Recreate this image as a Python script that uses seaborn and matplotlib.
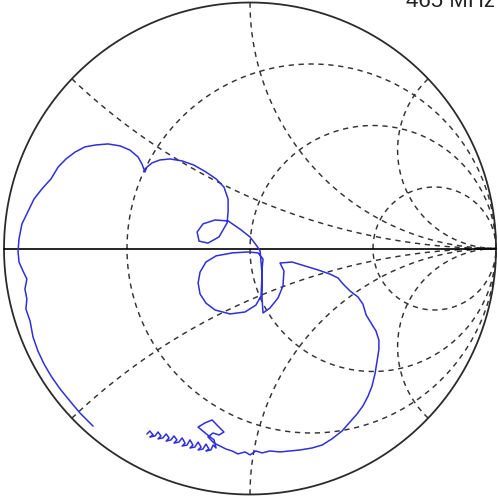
import numpy as np
import pandas as pd
import matplotlib
matplotlib.use("Agg")
import matplotlib.pyplot as plt
import seaborn as sns

gamma_re = [-0.419, -0.407, -0.394, -0.407, -0.386, -0.374, -0.362, -0.374, -0.354, -0.341,
            -0.329, -0.341, -0.321, -0.309, -0.297, -0.309, -0.289, -0.276, -0.264, -0.276,
            -0.256, -0.244, -0.232, -0.244, -0.224, -0.211, -0.199, -0.211, -0.191, -0.179,
            -0.167, -0.179, -0.159, -0.150, -0.138, -0.146, -0.167, -0.187, -0.211, -0.183,
            -0.154, -0.130, -0.106, -0.126, -0.150, -0.171, -0.146, -0.122, -0.098,
            -0.073, -0.049,
            -0.020, 0.000, 0.024, 0.049, 0.081, 0.122, 0.163, 0.203, 0.252, 0.293,
            0.333, 0.374, 0.407, 0.435, 0.459, 0.480, 0.496, 0.508, 0.516, 0.524,
            0.524, 0.512, 0.492, 0.472, 0.459, 0.439, 0.407, 0.378, 0.358, 0.325,
            0.276, 0.224, 0.171, 0.122, 0.138, 0.134, 0.114, 0.081, 0.053, 0.049,
            0.049, 0.049, 0.053, 0.033, -0.008, -0.073, -0.138, -0.179, -0.203, -0.211,
            -0.203, -0.179, -0.142, -0.081, -0.020, 0.024, 0.045, 0.049, 0.041, 0.028,
            0.000, -0.041, -0.089, -0.142, -0.191, -0.215, -0.207, -0.171, -0.126, -0.093,
            -0.089, -0.089, -0.106, -0.138, -0.179, -0.228, -0.276, -0.325, -0.366, -0.398,
            -0.419, -0.427, -0.439, -0.455, -0.488, -0.528, -0.577, -0.626, -0.671, -0.711,
            -0.748, -0.780, -0.809, -0.846, -0.878, -0.902, -0.927, -0.939, -0.943, -0.939,
            -0.923, -0.907, -0.915, -0.907, -0.911, -0.894, -0.882, -0.862, -0.837, -0.809,
            -0.772, -0.732, -0.691, -0.659, -0.638]
gamma_im = [-0.754, -0.742, -0.758, -0.766, -0.762, -0.746, -0.762, -0.774, -0.770, -0.754,
            -0.770, -0.783, -0.778, -0.762, -0.778, -0.791, -0.787, -0.770, -0.791, -0.803,
            -0.799, -0.778, -0.799, -0.811, -0.807, -0.787, -0.807, -0.819, -0.815, -0.795,
            -0.815, -0.823, -0.819, -0.799, -0.811, -0.778, -0.762, -0.746, -0.726, -0.709,
            -0.697, -0.722, -0.746, -0.758, -0.750, -0.766, -0.791, -0.803, -0.815,
            -0.823, -0.835,
            -0.827, -0.839, -0.823, -0.831, -0.823, -0.827, -0.823, -0.819, -0.811, -0.799,
            -0.774, -0.742, -0.705, -0.673, -0.640, -0.600, -0.559, -0.510, -0.461, -0.409,
            -0.372, -0.335, -0.303, -0.270, -0.226, -0.197, -0.173, -0.144, -0.120, -0.104,
            -0.087, -0.071, -0.055, -0.059, -0.091, -0.152, -0.201, -0.242, -0.262, -0.205,
            -0.144, -0.083, -0.043, -0.018, -0.014, -0.018, -0.030, -0.055, -0.096, -0.140,
            -0.185, -0.222, -0.250, -0.266, -0.258, -0.230, -0.193, -0.104, -0.010, 0.010,
            0.047, 0.079, 0.112, 0.116, 0.100, 0.067, 0.030, 0.022, 0.047, 0.104,
            0.152, 0.201, 0.250, 0.283, 0.311, 0.339, 0.356, 0.364, 0.360, 0.348,
            0.331, 0.311, 0.343, 0.372, 0.400, 0.417, 0.425, 0.421, 0.413, 0.392,
            0.364, 0.331, 0.283, 0.242, 0.201, 0.152, 0.100, 0.039, -0.010, -0.055,
            -0.091, -0.124, -0.165, -0.205, -0.246, -0.295, -0.360, -0.417, -0.470, -0.518,
            -0.571, -0.620, -0.669, -0.701, -0.722]

# Smith chart grid values
resistances = [1/3, 1.0, 3.0]
reactances = [0.4, 1.0, 2.5]
freq_label = "465 MHz"

sns.set_style("white")

W, H = 498, 502
fig = plt.figure(figsize=(W / 100, H / 100), dpi=100)
ax = fig.add_axes([0, 0, 1, 1])
cx, cy, R = 250.0, 249.5, 246.0
ax.set_xlim(-cx / R, (W - cx) / R)
ax.set_ylim(-(H - cy) / R, cy / R)
ax.axis("off")

grid_kw = dict(color="#333333", lw=1.05, linestyle=(0, (3.6, 3.2)))

# constant resistance circles
t = np.linspace(0, 2 * np.pi, 600)
for r in resistances:
    c = r / (1 + r)
    rad = 1 / (1 + r)
    ax.plot(c + rad * np.cos(t), rad * np.sin(t), **grid_kw)

# constant reactance arcs
for xv in reactances:
    phi0 = np.arctan2((xv ** 2 - 1) / xv, -2.0)
    if phi0 < 0:
        phi0 += 2 * np.pi
    ph = np.linspace(phi0, 1.5 * np.pi, 400)
    xs = 1 + (1 / xv) * np.cos(ph)
    ys = 1 / xv + (1 / xv) * np.sin(ph)
    ax.plot(xs, ys, **grid_kw)
    ax.plot(xs, -ys, **grid_kw)

# unit circle and real axis
ax.plot(np.cos(t), np.sin(t), color="#2b2b2b", lw=1.3)
ax.plot([-1, 1], [0, 0], color="black", lw=1.2)

df = pd.DataFrame({"re": gamma_re, "im": gamma_im})
sns.lineplot(data=df, x="re", y="im", sort=False, estimator=None,
             color="#2f2fdc", lw=1.1, ax=ax)

fig.text(0.994, 1 - 7 / H, freq_label, ha="right", va="baseline",
         fontsize=16, family=["Liberation Sans", "DejaVu Sans"], color="#222222")

fig.savefig("out.png", dpi=100)
